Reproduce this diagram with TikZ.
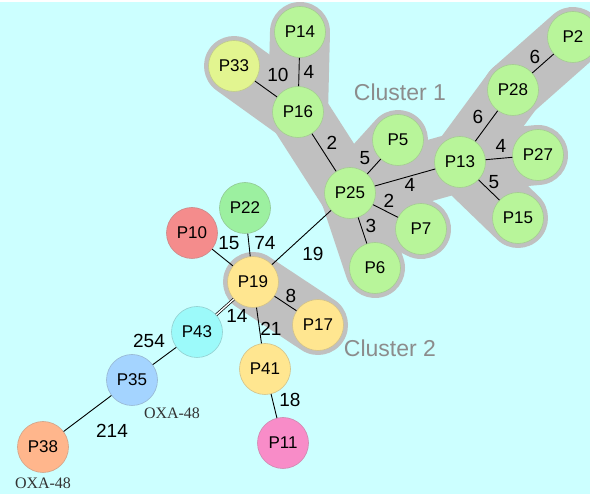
\documentclass[tikz,border=0pt]{standalone}
\usepackage{fontspec}
\setmainfont{Liberation Sans}
\newfontfamily\oxafont{Liberation Serif}
\usetikzlibrary{positioning}
\definecolor{bgcyan}{HTML}{CCFFFF}
\definecolor{hullgray}{HTML}{C0C0C0}
\definecolor{clustergray}{HTML}{8C8C8C}
\definecolor{pgreen}{HTML}{B8F59A}
\definecolor{plime}{HTML}{E2F590}
\definecolor{pmint}{HTML}{9CF0A0}
\definecolor{pred}{HTML}{F48C8C}
\definecolor{pyellow}{HTML}{FFE690}
\definecolor{pcyan}{HTML}{9CFAFA}
\definecolor{pblue}{HTML}{A4D4FF}
\definecolor{porange}{HTML}{FFB68C}
\definecolor{ppink}{HTML}{F88CC8}
\pgfdeclarelayer{background}
\pgfsetlayers{background,main}

\begin{document}
\begin{tikzpicture}[x=1pt,y=-1pt,
  plasmid/.style={circle,minimum size=51pt,inner sep=0pt,fill=#1,draw=#1!65!gray,line width=0.6pt,font=\fontsize{17}{17}\selectfont},
  link/.style={line width=0.9pt},
  dist/.style={font=\fontsize{19}{19}\selectfont},
  hull/.style={hullgray,line width=60pt,line cap=round,line join=round},
  clabel/.style={clustergray,font=\fontsize{23}{23}\selectfont},
  oxa/.style={black!80,font=\oxafont\fontsize{16}{16}\selectfont}]
\useasboundingbox (0,0) rectangle (590,494);
% plasmid profiles
\node[plasmid=pgreen] (P14) at (300,32) {P14};
\node[plasmid=plime] (P33) at (234,66) {P33};
\node[plasmid=pgreen] (P16) at (298,112) {P16};
\node[plasmid=pgreen] (P25) at (350,193) {P25};
\node[plasmid=pgreen] (P5) at (398,140) {P5};
\node[plasmid=pgreen] (P7) at (421,229) {P7};
\node[plasmid=pgreen] (P6) at (375,268) {P6};
\node[plasmid=pgreen] (P13) at (460,162) {P13};
\node[plasmid=pgreen] (P28) at (513,90) {P28};
\node[plasmid=pgreen] (P2) at (573,37) {P2};
\node[plasmid=pgreen] (P27) at (538,155) {P27};
\node[plasmid=pgreen] (P15) at (518,218) {P15};
\node[plasmid=pmint] (P22) at (245,208) {P22};
\node[plasmid=pred] (P10) at (192,233) {P10};
\node[plasmid=pyellow] (P19) at (253,282) {P19};
\node[plasmid=pyellow] (P17) at (318,325) {P17};
\node[plasmid=pyellow] (P41) at (265,369) {P41};
\node[plasmid=ppink] (P11) at (283,443) {P11};
\node[plasmid=pcyan] (P43) at (197,332) {P43};
\node[plasmid=pblue] (P35) at (132,380) {P35};
\node[plasmid=porange] (P38) at (43,447) {P38};
% background and cluster hulls
\begin{pgfonlayer}{background}
\fill[bgcyan] (0,2) rectangle (590,494);
\foreach \a/\b in {P14/P16,P33/P16,P16/P25,P25/P5,P25/P7,P25/P6,P25/P13,P13/P28,P28/P2,P13/P27,P13/P15,P19/P17}
  \draw[hull] (\a.center) -- (\b.center);
\end{pgfonlayer}
% links
\foreach \a/\b in {P14/P16,P33/P16,P16/P25,P25/P5,P25/P7,P25/P6,P25/P13,P13/P28,P28/P2,P13/P27,P13/P15,P25/P19,P22/P19,P10/P19,P19/P17,P19/P41,P41/P11,P43/P35,P35/P38}
  \draw[link] (\a) -- (\b);
\draw[link,double,double distance=1.4pt,line width=0.7pt] (P19) -- (P43);
% distances
\node[dist] (d3316) at (278,75) {10};
\node[dist] (d1416) at (309,72) {4};
\node[dist] (d1625) at (332,143) {2};
\node[dist] (d255) at (365,158) {5};
\node[dist] (d257) at (389,201) {2};
\node[dist] (d2513) at (410,185) {4};
\node[dist] (d256) at (371,226) {3};
\node[dist] (d1328) at (478,117) {6};
\node[dist] (d282) at (535,57) {6};
\node[dist] (d1327) at (501,146) {4};
\node[dist] (d1315) at (494,182) {5};
\node[dist] (d1019) at (229,243) {15};
\node[dist] (d2219) at (265,243) {74};
\node[dist] (d2519) at (313,254) {19};
\node[dist] (d1917) at (291,296) {8};
\node[dist] (d1943) at (237,316) {14};
\node[dist] (d1941) at (271,329) {21};
\node[dist] (d4335) at (149,341) {254};
\node[dist] (d3538) at (112,431) {214};
\node[dist] (d4111) at (290,400) {18};
% cluster names and markers
\node[clabel] (c1) at (400,92) {Cluster 1};
\node[clabel] (c2) at (390,348) {Cluster 2};
\node[oxa] (oxa35) at (172,413) {OXA-48};
\node[oxa] (oxa38) at (43,483) {OXA-48};
\end{tikzpicture}
\end{document}
